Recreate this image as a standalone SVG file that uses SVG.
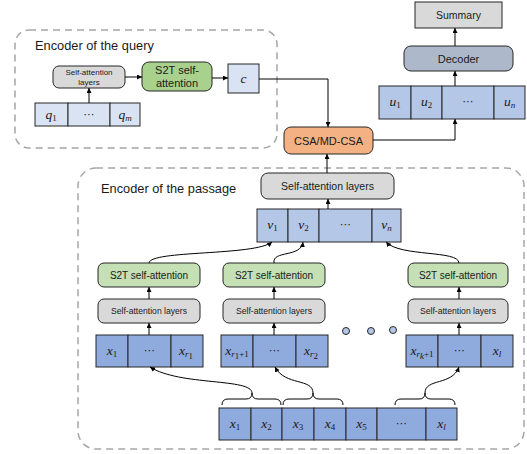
<svg xmlns="http://www.w3.org/2000/svg" width="527" height="454" viewBox="0 0 527 454">
<defs>
<marker id="ah" viewBox="0 0 10 10" refX="10" refY="5" markerWidth="5" markerHeight="5" orient="auto-start-reverse" markerUnits="userSpaceOnUse">
<path d="M0,0 L10,5 L0,10 z" fill="#000"/>
</marker>
<style>
.dash{fill:none;stroke:#a6a6a6;stroke-width:1.5;stroke-dasharray:7,5}
.cell{stroke:#262626;stroke-width:1}
.lq{fill:#dae3f3}
.lv{fill:#b4c7e7}
.lx{fill:#8faadc}
.sa{fill:#d9d9d9;stroke:#262626;stroke-width:1}
.s2t{fill:#c5e0b4;stroke:#262626;stroke-width:1}
.lbl{font-family:"Liberation Sans",Arial,sans-serif;fill:#1a1a1a;text-anchor:middle}
.m{font-family:"Liberation Serif","DejaVu Serif",serif;font-style:italic;font-size:13.5px;fill:#1a1a1a;text-anchor:middle}
.sub{font-style:normal;font-size:9px}
.subi{font-style:italic;font-size:9px}
.dots{font-family:"DejaVu Sans",sans-serif;font-size:11px;fill:#1a1a1a;text-anchor:middle}
.ln{fill:none;stroke:#000;stroke-width:1}
.title{font-family:"Liberation Sans",Arial,sans-serif;font-size:12.8px;fill:#1a1a1a}
</style>
</defs>

<g id="query-encoder">
<rect class="dash" x="15" y="30" width="262" height="118" rx="14"/>
<text class="title" x="35" y="50">Encoder of the query</text>
</g>
<g id="passage-encoder">
<rect class="dash" x="78" y="168" width="446" height="281" rx="18"/>
<text class="title" x="101" y="193">Encoder of the passage</text>
</g>

<g id="q-seq">
<rect class="cell lq" x="35" y="103" width="33" height="23"/>
<rect class="cell lq" x="68" y="103" width="42" height="23"/>
<rect class="cell lq" x="110" y="103" width="30" height="23"/>
<text class="m" x="51" y="119">q<tspan class="sub" dy="2">1</tspan></text>
<text class="dots" x="89" y="118">⋯</text>
<text class="m" x="125" y="119">q<tspan class="subi" dy="2">m</tspan></text>
</g>

<g id="q-sa">
<rect class="sa" x="53" y="66" width="72" height="22" rx="6"/>
<text class="lbl" font-size="8" x="89" y="75">Self-attention</text>
<text class="lbl" font-size="8" x="89" y="85">layers</text>
</g>

<g id="q-s2t">
<rect x="142" y="62" width="70" height="29" rx="7" fill="#a9d18e" stroke="#262626"/>
<text class="lbl" font-size="11" x="177" y="74">S2T self-</text>
<text class="lbl" font-size="11" x="177" y="87">attention</text>
</g>

<g id="c">
<rect class="cell lq" x="228" y="64" width="31" height="29"/>
<text class="m" x="243.5" y="83">c</text>
</g>

<g id="csa">
<rect x="284" y="127" width="89" height="27" rx="7" fill="#f4b183" stroke="#262626"/>
<text class="lbl" font-size="11" x="328.5" y="144.5">CSA/MD-CSA</text>
</g>

<g id="u-seq">
<rect class="cell lv" x="379" y="86" width="32" height="33"/>
<rect class="cell lv" x="411" y="86" width="31" height="33"/>
<rect class="cell lv" x="442" y="86" width="52" height="33"/>
<rect class="cell lv" x="494" y="86" width="31" height="33"/>
<text class="m" x="395" y="106">u<tspan class="sub" dy="2">1</tspan></text>
<text class="m" x="426.5" y="106">u<tspan class="sub" dy="2">2</tspan></text>
<text class="dots" x="468" y="105">⋯</text>
<text class="m" x="509.5" y="106">u<tspan class="subi" dy="2">n</tspan></text>
</g>

<g id="decoder">
<rect x="404" y="46" width="109" height="25" rx="7" fill="#adb9ca" stroke="#262626"/>
<text class="lbl" font-size="11" x="458.5" y="62.5">Decoder</text>
</g>

<g id="summary">
<rect x="415" y="2" width="87" height="26" fill="#d9d9d9" stroke="#262626"/>
<text class="lbl" font-size="10.5" x="458.5" y="19">Summary</text>
</g>

<g id="p-sa">
<rect class="sa" x="261" y="173" width="133" height="26" rx="7"/>
<text class="lbl" font-size="10.5" x="327.5" y="190">Self-attention layers</text>
</g>

<g id="v-seq">
<rect class="cell lv" x="257" y="209" width="31" height="33"/>
<rect class="cell lv" x="288" y="209" width="31" height="33"/>
<rect class="cell lv" x="319" y="209" width="53" height="33"/>
<rect class="cell lv" x="372" y="209" width="29" height="33"/>
<text class="m" x="272.5" y="229">v<tspan class="sub" dy="2">1</tspan></text>
<text class="m" x="303.5" y="229">v<tspan class="sub" dy="2">2</tspan></text>
<text class="dots" x="345.5" y="228">⋯</text>
<text class="m" x="386.5" y="229">v<tspan class="subi" dy="2">n</tspan></text>
</g>

<g id="s2t-1">
<rect class="s2t" x="98" y="263" width="102" height="24" rx="6"/>
<text class="lbl" font-size="10" x="149" y="278.5">S2T self-attention</text>
</g>
<g id="sa-1">
<rect class="sa" x="98" y="299" width="102" height="24" rx="6"/>
<text class="lbl" font-size="8.6" x="149" y="314">Self-attention layers</text>
</g>
<g id="x-seg-1">
<rect class="cell lx" x="96" y="335" width="32" height="32"/>
<rect class="cell lx" x="128" y="335" width="43" height="32"/>
<rect class="cell lx" x="171" y="335" width="32" height="32"/>
<text class="m" x="112" y="355">x<tspan class="sub" dy="2">1</tspan></text>
<text class="dots" x="149.5" y="354">⋯</text>
<text class="m" x="186" y="355">x<tspan class="subi" dy="2">r</tspan><tspan class="sub" font-size="6.5" dy="2">1</tspan></text>
</g>

<g id="s2t-2">
<rect class="s2t" x="223" y="263" width="102" height="24" rx="6"/>
<text class="lbl" font-size="10" x="274" y="278.5">S2T self-attention</text>
</g>
<g id="sa-2">
<rect class="sa" x="223" y="299" width="102" height="24" rx="6"/>
<text class="lbl" font-size="8.6" x="274" y="314">Self-attention layers</text>
</g>
<g id="x-seg-2">
<rect class="cell lx" x="221" y="335" width="32" height="32"/>
<rect class="cell lx" x="253" y="335" width="43" height="32"/>
<rect class="cell lx" x="296" y="335" width="32" height="32"/>
<text class="m" x="237" y="355" font-size="12">x<tspan class="subi" dy="2">r</tspan><tspan class="sub" font-size="6.5" dy="2">1</tspan><tspan class="sub" dy="-2">+1</tspan></text>
<text class="dots" x="274.5" y="354">⋯</text>
<text class="m" x="311" y="355">x<tspan class="subi" dy="2">r</tspan><tspan class="sub" font-size="6.5" dy="2">2</tspan></text>
</g>

<g id="s2t-3">
<rect class="s2t" x="408" y="263" width="100" height="24" rx="6"/>
<text class="lbl" font-size="10" x="458" y="278.5">S2T self-attention</text>
</g>
<g id="sa-3">
<rect class="sa" x="408" y="299" width="100" height="24" rx="6"/>
<text class="lbl" font-size="8.6" x="458" y="314">Self-attention layers</text>
</g>
<g id="x-seg-3">
<rect class="cell lx" x="406" y="335" width="32" height="32"/>
<rect class="cell lx" x="438" y="335" width="43" height="32"/>
<rect class="cell lx" x="481" y="335" width="32" height="32"/>
<text class="m" x="422" y="355" font-size="12">x<tspan class="subi" dy="2">r</tspan><tspan class="subi" font-size="6.5" dy="2">k</tspan><tspan class="sub" dy="-2">+1</tspan></text>
<text class="dots" x="459.5" y="354">⋯</text>
<text class="m" x="497" y="355">x<tspan class="subi" dy="2">l</tspan></text>
</g>

<g id="ellipsis-dots" fill="#b4c7e7" stroke="#262626" stroke-width="1">
<circle cx="346" cy="331" r="3.5"/>
<circle cx="371" cy="331" r="3.5"/>
<circle cx="393" cy="330" r="3.5"/>
</g>

<g id="x-seq">
<rect class="cell lx" x="219" y="408" width="32" height="32"/>
<rect class="cell lx" x="251" y="408" width="31" height="32"/>
<rect class="cell lx" x="282" y="408" width="32" height="32"/>
<rect class="cell lx" x="314" y="408" width="32" height="32"/>
<rect class="cell lx" x="346" y="408" width="31" height="32"/>
<rect class="cell lx" x="377" y="408" width="49" height="32"/>
<rect class="cell lx" x="426" y="408" width="31" height="32"/>
<text class="m" x="235" y="428">x<tspan class="sub" dy="2">1</tspan></text>
<text class="m" x="266.5" y="428">x<tspan class="sub" dy="2">2</tspan></text>
<text class="m" x="298" y="428">x<tspan class="sub" dy="2">3</tspan></text>
<text class="m" x="330" y="428">x<tspan class="sub" dy="2">4</tspan></text>
<text class="m" x="361.5" y="428">x<tspan class="sub" dy="2">5</tspan></text>
<text class="dots" x="401.5" y="427">⋯</text>
<text class="m" x="441.5" y="428">x<tspan class="subi" dy="2">l</tspan></text>
</g>

<g id="connectors">
<path class="ln" d="M89,103 V88" marker-end="url(#ah)"/>
<path class="ln" d="M125,77 H142" marker-end="url(#ah)"/>
<path class="ln" d="M212,78 H228" marker-end="url(#ah)"/>
<path class="ln" d="M259,79 H328 V127" marker-end="url(#ah)"/>
<path class="ln" d="M373,140 H455 V119" marker-end="url(#ah)"/>
<path class="ln" d="M455,86 V71" marker-end="url(#ah)"/>
<path class="ln" d="M455,46 V28" marker-end="url(#ah)"/>
<path class="ln" d="M327,173 V154" marker-end="url(#ah)"/>
<path class="ln" d="M328,209 V199" marker-end="url(#ah)"/>
<path class="ln" d="M149,263 C150,250 255,256 272,242" marker-end="url(#ah)"/>
<path class="ln" d="M274,263 C272,250 301,258 303,242" marker-end="url(#ah)"/>
<path class="ln" d="M459,263 C459,250 400,257 386,242" marker-end="url(#ah)"/>
<path class="ln" d="M149,335 V323" marker-end="url(#ah)"/>
<path class="ln" d="M149,299 V287" marker-end="url(#ah)"/>
<path class="ln" d="M274,335 V323" marker-end="url(#ah)"/>
<path class="ln" d="M274,299 V287" marker-end="url(#ah)"/>
<path class="ln" d="M459,335 V323" marker-end="url(#ah)"/>
<path class="ln" d="M459,299 V287" marker-end="url(#ah)"/>
<path class="ln" d="M222,405 Q222,399 228,399 H246 Q252,399 252,393 Q252,399 258,399 H275 Q281,399 281,405"/>
<path class="ln" d="M283,405 Q283,399 289,399 H307 Q313,399 313,393 Q313,399 319,399 H337 Q343,399 343,405"/>
<path class="ln" d="M395,405 Q395,399 401,399 H419 Q425,399 425,393 Q425,399 431,399 H449 Q455,399 455,405"/>
<path class="ln" d="M252,393 C252,378 180,386 150,367" marker-end="url(#ah)"/>
<path class="ln" d="M313,393 C313,378 285,386 275,367" marker-end="url(#ah)"/>
<path class="ln" d="M425,393 C425,378 452,386 459,367" marker-end="url(#ah)"/>
</g>
</svg>
